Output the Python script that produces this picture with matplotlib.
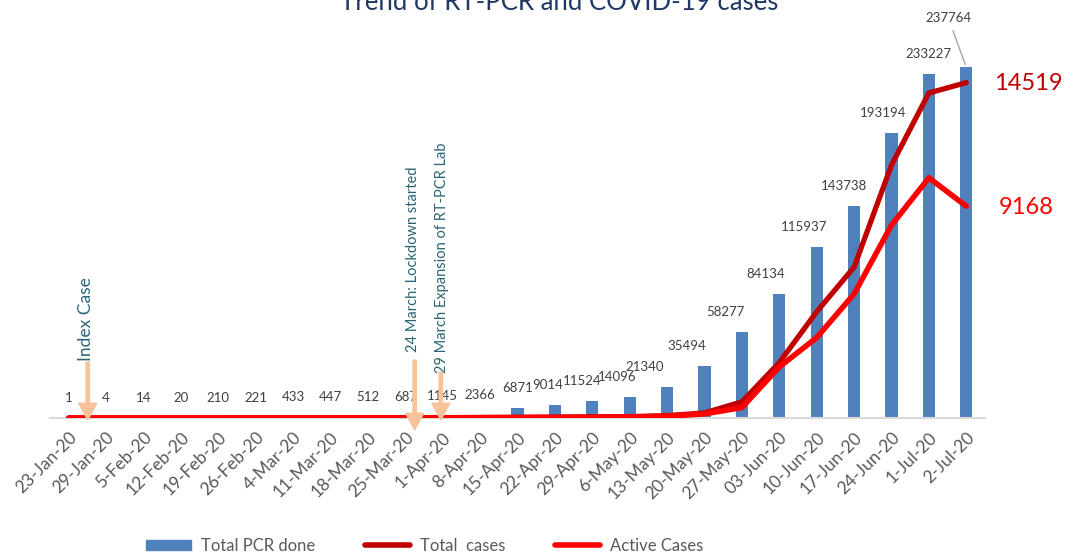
import matplotlib
matplotlib.use('Agg')
import matplotlib.pyplot as plt
from matplotlib.patches import Patch
from matplotlib.lines import Line2D

plt.rcParams['font.family'] = ['Lato', 'DejaVu Sans']

dates = ['23-Jan-20', '29-Jan-20', '5-Feb-20', '12-Feb-20', '19-Feb-20', '26-Feb-20',
         '4-Mar-20', '11-Mar-20', '18-Mar-20', '25-Mar-20', '1-Apr-20', '8-Apr-20',
         '15-Apr-20', '22-Apr-20', '29-Apr-20', '6-May-20', '13-May-20', '20-May-20',
         '27-May-20', '03-Jun-20', '10-Jun-20', '17-Jun-20', '24-Jun-20', '1-Jul-20',
         '2-Jul-20']
pcr_done = [1, 4, 14, 20, 210, 221, 433, 447, 512, 687, 1145, 2366, 6871, 9014,
            11524, 14096, 21340, 35494, 58277, 84134, 115937, 143738, 193194,
            233227, 237764]
total_cases = [1, 1, 1, 2, 2, 3, 3, 3, 4, 8, 12, 20, 30, 40, 50, 60, 100, 220,
               700, 2400, 4600, 6530, 10950, 14070, 14519]
active_cases = [1, 1, 1, 2, 2, 3, 3, 3, 4, 7, 10, 15, 20, 25, 30, 40, 80, 180,
                450, 2210, 3480, 5370, 8350, 10400, 9168]

# horizontal nudges of the data labels (pixels), like Excel moved them
label_dx = [0] * 13 + [-7, -10, -13, -22, -18, -17, -14, -13, -10, -8, 0, 0]

BAR_BLUE = '#4F81BD'
DARK_RED = '#C00000'
RED = '#FF0000'
GREY = '#595959'
TEAL = '#2A6475'
PEACH = '#F8C39B'


def main():
    fig = plt.figure(figsize=(10.8, 5.58), dpi=100)
    ax = fig.add_axes([50 / 1080, 1 - 418 / 558, 935 / 1080, 383 / 558])
    x = list(range(len(dates)))

    ax.bar(x, pcr_done, width=0.33, color=BAR_BLUE, zorder=2)
    ax.set_xlim(-0.5, len(dates) - 0.5)
    ax.set_ylim(0, 259500)

    for s in ['top', 'right', 'left']:
        ax.spines[s].set_visible(False)
    ax.spines['bottom'].set_color('#D9D9D9')
    ax.spines['bottom'].set_linewidth(1.5)
    ax.set_yticks([])
    ax.set_xticks(x)
    ax.set_xticklabels(dates, rotation=45, ha='right', rotation_mode='anchor',
                       fontsize=12.5, color=GREY)
    ax.tick_params(axis='x', length=0, pad=8)

    # data labels
    for i, v in enumerate(pcr_done[:-1]):
        ax.annotate(str(v), xy=(i, v), xytext=(label_dx[i], 20),
                    textcoords='offset pixels', ha='center', va='center',
                    fontsize=9.5, color='#404040')
    last = len(pcr_done) - 1
    ax.annotate(str(pcr_done[last]), xy=(last, pcr_done[last]), xytext=(-18, 49),
                textcoords='offset pixels', ha='center', va='center',
                fontsize=9.5, color='#404040',
                arrowprops=dict(arrowstyle='-', color='#A6A6A6', lw=1,
                                shrinkA=3, shrinkB=2))

    # secondary axis for case lines
    ax2 = ax.twinx()
    ax2.set_ylim(0, 16580)
    ax2.set_yticks([])
    for s in ax2.spines.values():
        s.set_visible(False)
    ax2.plot(x, total_cases, color=DARK_RED, lw=3.8, solid_capstyle='round',
             solid_joinstyle='round', zorder=3)
    ax2.plot(x, active_cases, color=RED, lw=4.0, solid_capstyle='round',
             solid_joinstyle='round', zorder=4)

    # event arrows
    events = [(0.51, 0.146, -0.005, 'Index Case', 0.46, 0.148, 12.5),
              (9.25, 0.151, -0.031, '24 March: Lockdown started', 9.2, 0.172, 10.5),
              (9.95, 0.12, -0.005, '29 March Expansion of RT-PCR Lab', 9.97, 0.118, 10.5)]
    for ax_x, y0, y1, txt, tx, ty, fs in events:
        ax2.annotate('', xy=(ax_x, y1), xytext=(ax_x, y0),
                     xycoords=('data', 'axes fraction'),
                     textcoords=('data', 'axes fraction'),
                     arrowprops=dict(width=2.4, headwidth=13, headlength=12,
                                     color=PEACH, shrink=0),
                     annotation_clip=False, zorder=5)
        ax2.text(tx, ty, txt, rotation=90, ha='center', va='bottom',
                 fontsize=fs, color=TEAL, transform=ax2.get_xaxis_transform())

    fig.text(1028 / 1080, 1 - 83 / 558, '14519', fontsize=17, color=DARK_RED,
             ha='center', va='center')
    fig.text(1026 / 1080, 1 - 208 / 558, '9168', fontsize=17, color=RED,
             ha='center', va='center')

    fig.text(0.518, 0.995, 'Trend of RT-PCR and COVID-19 cases', fontsize=18.5,
             color='#1F3864', ha='center', va='center')

    handles = [Patch(color=BAR_BLUE),
               Line2D([], [], color=DARK_RED, lw=4, solid_capstyle='round'),
               Line2D([], [], color=RED, lw=4, solid_capstyle='round')]
    fig.legend(handles, ['Total PCR done', 'Total  cases', 'Active Cases'],
               loc='center', bbox_to_anchor=(0.393, 0.022), ncol=3, frameon=False,
               fontsize=12, labelcolor=GREY, handlelength=2.7, handleheight=0.6,
               handletextpad=0.6, columnspacing=3.0)

    fig.savefig('out.png', dpi=100)


if __name__ == '__main__':
    main()
